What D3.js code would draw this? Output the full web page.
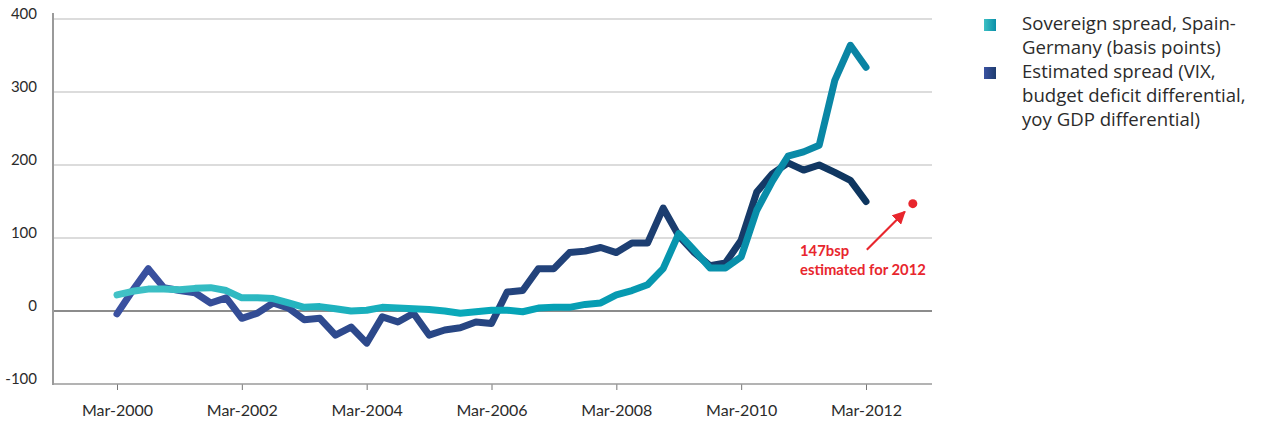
<!DOCTYPE html>
<html>
<head>
<meta charset="utf-8">
<script src="https://cdn.jsdelivr.net/npm/d3@7/dist/d3.min.js"></script>
<style>
  html, body { margin: 0; padding: 0; background: #ffffff; }
  svg { display: block; }
  text { font-family: Lato, "Open Sans", sans-serif; }
</style>
</head>
<body>
<svg id="chart" width="1262" height="425"></svg>
<script>
// Quarterly observations, Mar-2000 .. Mar-2012
const quarterCount = 49;
const xTickIndex = [0, 8, 16, 24, 32, 40, 48];
const xTickLabels = ["Mar-2000", "Mar-2002", "Mar-2004", "Mar-2006", "Mar-2008", "Mar-2010", "Mar-2012"];
const yTicks = [-100, 0, 100, 200, 300, 400];
const yTickLabels = ["-100", "0", "100", "200", "300", "400"];

// Spain-Germany sovereign spread (basis points)
const sovereignSpread = [
  22, 27, 30, 30, 29, 31, 32, 28, 18, 18, 17, 11, 5, 6, 3, 0, 1, 5, 4, 3,
  2, 0, -3, -1, 1, 1, -1, 4, 5, 5, 9, 11, 22, 28, 36, 58, 106, 83, 59, 59,
  74, 138, 178, 212, 218, 227, 316, 364, 334
];

// Estimated spread (VIX, budget deficit differential, yoy GDP differential)
const estimatedSpread = [
  -4, 28, 58, 32, 28, 25, 11, 18, -10, -3, 11, 4, -12, -10, -33, -22, -44, -8, -15, -3,
  -33, -26, -23, -15, -17, 26, 28, 58, 58, 80, 82, 87, 80, 93, 93, 141, 103, 80, 62, 66,
  97, 163, 188, 203, 193, 200, 190, 179, 150
];

// 2012 estimate
const forecastIndex = 51;
const forecastValue = 147;
const forecastLabel = ["147bsp", "estimated for 2012"];

const legendItems = [
  { lines: ["Sovereign spread, Spain-", "Germany (basis points)"], grad: "gradTealKey" },
  { lines: ["Estimated spread (VIX,", "budget deficit differential,", "yoy GDP differential)"], grad: "gradBlueKey" }
];

const svg = d3.select("#chart");
const plotLeft = 53, plotRight = 932, plotTop = 19, plotBottom = 384;

const x = d3.scaleLinear().domain([0, quarterCount - 1]).range([117, 866]);
const y = d3.scaleLinear().domain([-100, 400]).range([plotBottom, plotTop]);

const defs = svg.append("defs");
function lineGradient(id, stops) {
  const g = defs.append("linearGradient").attr("id", id)
    .attr("gradientUnits", "userSpaceOnUse")
    .attr("x1", x(0)).attr("x2", x(quarterCount - 1)).attr("y1", 0).attr("y2", 0);
  stops.forEach(([o, c]) => g.append("stop").attr("offset", o).attr("stop-color", c));
}
lineGradient("gradTeal", [[0, "#42c2c6"], [0.5, "#05a6b8"], [1, "#0a83a3"]]);
lineGradient("gradBlue", [[0, "#3b51a1"], [0.45, "#274683"], [0.75, "#1b3d6e"], [1, "#0d355e"]]);
function keyGradient(id, c0, c1) {
  const g = defs.append("linearGradient").attr("id", id)
    .attr("x1", 0).attr("x2", 1).attr("y1", 0).attr("y2", 0);
  g.append("stop").attr("offset", 0).attr("stop-color", c0);
  g.append("stop").attr("offset", 1).attr("stop-color", c1);
}
keyGradient("gradTealKey", "#3cc0c4", "#0a8fa8");
keyGradient("gradBlueKey", "#3a52a2", "#1e3c6e");

// Horizontal gridlines
svg.append("g")
  .selectAll("line")
  .data(yTicks.filter(v => v !== 0 && v !== -100))
  .join("line")
  .attr("x1", plotLeft).attr("x2", plotRight)
  .attr("y1", d => y(d)).attr("y2", d => y(d))
  .attr("stroke", "#b9b9b9").attr("stroke-width", 1);

// Bottom axis with date ticks
const xAxis = d3.axisBottom(x)
  .tickValues(xTickIndex)
  .tickFormat((d, i) => xTickLabels[i])
  .tickSize(6)
  .tickPadding(15);
const gx = svg.append("g").attr("transform", `translate(0,${plotBottom})`).call(xAxis);
gx.select(".domain").remove();
gx.selectAll(".tick line").attr("stroke", "#777").attr("stroke-width", 1);
gx.selectAll(".tick text").attr("fill", "#2b2b2b").attr("font-size", 16);
svg.append("line")
  .attr("x1", plotLeft).attr("x2", plotRight)
  .attr("y1", plotBottom).attr("y2", plotBottom)
  .attr("stroke", "#9a9a9a").attr("stroke-width", 1.5);

// Zero line
svg.append("line")
  .attr("x1", plotLeft).attr("x2", plotRight)
  .attr("y1", y(0)).attr("y2", y(0))
  .attr("stroke", "#8c8c8c").attr("stroke-width", 2.2);

// Left axis
const yAxis = d3.axisLeft(y).tickValues(yTicks)
  .tickFormat((d, i) => yTickLabels[i])
  .tickSize(0).tickPadding(16);
const gy = svg.append("g").attr("transform", `translate(${plotLeft},0)`).call(yAxis);
gy.select(".domain").remove();
gy.selectAll(".tick text").attr("fill", "#2b2b2b").attr("font-size", 15).attr("dy", "-0.02em");
svg.append("line")
  .attr("x1", plotLeft).attr("x2", plotLeft)
  .attr("y1", 13).attr("y2", plotBottom + 1)
  .attr("stroke", "#9a9a9a").attr("stroke-width", 2);

// Series lines
const line = d3.line().x((d, i) => x(i)).y(d => y(d));
svg.append("path")
  .datum(estimatedSpread)
  .attr("d", line)
  .attr("fill", "none")
  .attr("stroke", "url(#gradBlue)")
  .attr("stroke-width", 7)
  .attr("stroke-linejoin", "round")
  .attr("stroke-linecap", "round");
svg.append("path")
  .datum(sovereignSpread)
  .attr("d", line)
  .attr("fill", "none")
  .attr("stroke", "url(#gradTeal)")
  .attr("stroke-width", 7)
  .attr("stroke-linejoin", "round")
  .attr("stroke-linecap", "round");

// 2012 estimate marker, arrow and note
const red = "#e8262d";
const fx = x(forecastIndex), fy = y(forecastValue);
svg.append("circle").attr("cx", fx).attr("cy", fy).attr("r", 4.5).attr("fill", red);
defs.append("marker").attr("id", "arrowHead")
  .attr("viewBox", "0 0 10 10").attr("refX", 9).attr("refY", 5)
  .attr("markerWidth", 6).attr("markerHeight", 6).attr("orient", "auto")
  .append("path").attr("d", "M0,0L10,5L0,10Z").attr("fill", red);
svg.append("line")
  .attr("x1", fx - 46).attr("y1", fy + 46)
  .attr("x2", fx - 8).attr("y2", fy + 8)
  .attr("stroke", red).attr("stroke-width", 2.2)
  .attr("marker-end", "url(#arrowHead)");
const note = svg.append("text")
  .attr("x", 800).attr("y", 256)
  .attr("fill", red).attr("font-size", 14.8).attr("font-weight", "bold");
forecastLabel.forEach((t, i) => note.append("tspan").attr("x", 800).attr("dy", i === 0 ? 0 : 19).text(t));

// Legend
let rowY = 30;
legendItems.forEach(item => {
  svg.append("rect")
    .attr("x", 984).attr("y", rowY - 11)
    .attr("width", 12).attr("height", 12)
    .attr("fill", `url(#${item.grad})`);
  item.lines.forEach(t => {
    svg.append("text").attr("x", 1022).attr("y", rowY)
      .attr("fill", "#2b2b2b").attr("font-size", 18.6)
      .style("font-family", "'Open Sans', sans-serif").text(t);
    rowY += 24;
  });
});
</script>
</body>
</html>
